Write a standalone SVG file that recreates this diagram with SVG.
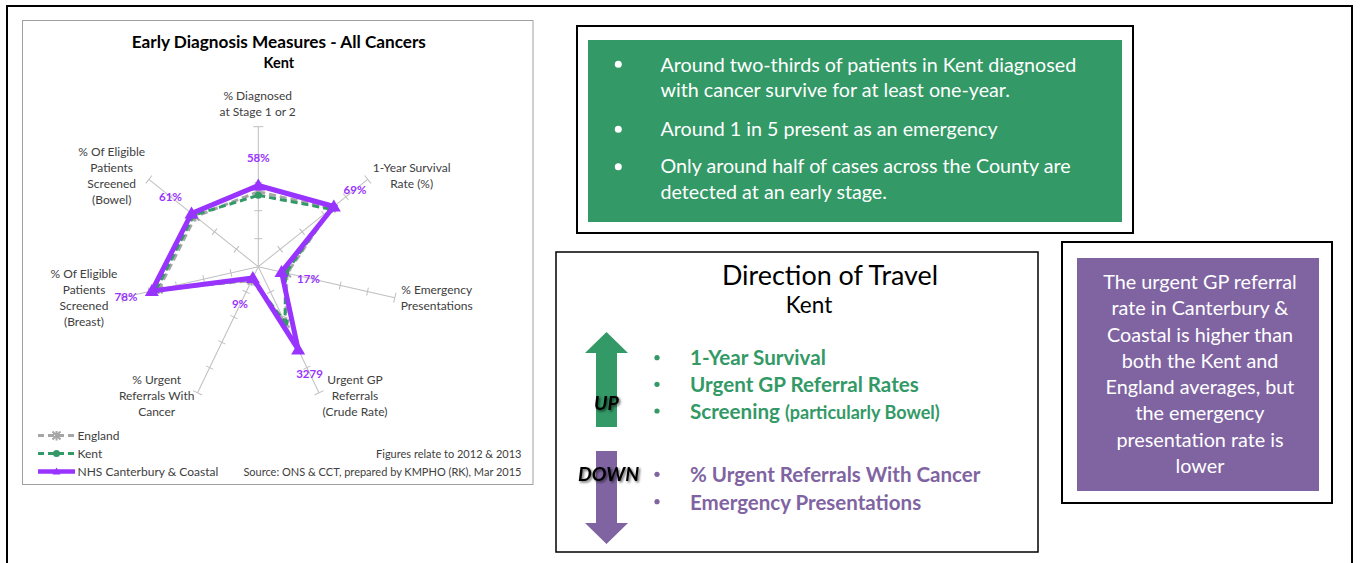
<svg xmlns="http://www.w3.org/2000/svg" xmlns:xlink="http://www.w3.org/1999/xlink" width="1360" height="563" viewBox="0 0 1360 563">
<style>
.frame{fill:none;stroke:#000;stroke-width:2}
.lbl{font-family:Lato,"Liberation Sans",sans-serif;font-size:12px;fill:#404040;text-anchor:middle}
.val{font-family:Lato,"Liberation Sans",sans-serif;font-size:11.5px;font-weight:bold;fill:#9933ff;text-anchor:middle}
.leg{font-family:Lato,"Liberation Sans",sans-serif;font-size:12px;fill:#404040}
.note{font-family:Lato,"Liberation Sans",sans-serif;font-size:11px;fill:#404040;text-anchor:end}
.wt{font-family:Lato,"Liberation Sans",sans-serif;font-size:19.7px;fill:#fff}
.pt{font-family:Lato,"Liberation Sans",sans-serif;font-size:19.8px;fill:#fff;text-anchor:middle}
.gb{font-family:Lato,"Liberation Sans",sans-serif;font-size:20.6px;font-weight:bold;fill:#339966}
.pb{font-family:Lato,"Liberation Sans",sans-serif;font-size:20.5px;font-weight:bold;fill:#8064a2}
.ud{font-family:Lato,"Liberation Sans",sans-serif;font-size:19.5px;font-weight:bold;font-style:italic;fill:#000}
.ax{stroke:#bfbfbf;stroke-width:1;fill:none}
</style>
<defs>
<g id="axis" class="ax"><line x1="0" y1="0" x2="0" y2="-140"/><path d="M-4,-28h8M-4,-56h8M-4,-84h8M-4,-112h8M-5,-140h10"/></g>
<marker id="tri" markerUnits="userSpaceOnUse" markerWidth="16" markerHeight="16" refX="8" refY="8" viewBox="0 0 16 16" overflow="visible"><path d="M8,1 L15,13 L1,13 Z" fill="#9933ff"/></marker>
<marker id="trism" markerUnits="userSpaceOnUse" markerWidth="10" markerHeight="10" refX="5" refY="5" viewBox="0 0 10 10" overflow="visible"><path d="M5,1 L9,8 L1,8 Z" fill="#9933ff"/></marker>
<marker id="dot" markerUnits="userSpaceOnUse" markerWidth="8" markerHeight="8" refX="4" refY="4" viewBox="0 0 8 8"><circle cx="4" cy="4" r="3.5" fill="#339966"/></marker>
<marker id="ex" markerUnits="userSpaceOnUse" markerWidth="10" markerHeight="10" refX="5" refY="5" viewBox="0 0 10 10"><path d="M1,1L9,9M9,1L1,9M5,0V10" stroke="#a6a6a6" stroke-width="2"/></marker>
<filter id="sh" x="-20%" y="-30%" width="150%" height="170%"><feDropShadow dx="1.5" dy="1.5" stdDeviation="1.2" flood-color="#000" flood-opacity="0.6"/></filter>
</defs>
<rect width="1360" height="563" fill="#fff"/>
<rect x="7" y="6" width="1345" height="600" class="frame"/>

<g id="chart">
<rect x="22.5" y="20.5" width="510.5" height="464" fill="#fff" stroke="#a0a0a0" stroke-width="1"/>
<text x="278.8" y="47.5" text-anchor="middle" font-family="Lato,'Liberation Sans',sans-serif" font-size="17.2" font-weight="bold" fill="#000">Early Diagnosis Measures - All Cancers</text>
<text x="278.8" y="67.5" text-anchor="middle" font-family="Lato,'Liberation Sans',sans-serif" font-size="14.5" font-weight="bold" fill="#000">Kent</text>
<g transform="translate(258.3,266.7)">
<use href="#axis"/>
<use href="#axis" transform="rotate(51.4286)"/>
<use href="#axis" transform="rotate(102.857)"/>
<use href="#axis" transform="rotate(154.286)"/>
<use href="#axis" transform="rotate(205.714)"/>
<use href="#axis" transform="rotate(257.143)"/>
<use href="#axis" transform="rotate(308.571)"/>
<path d="M0,-74.9 L73.33,-58.48 L28.66,6.54 L27.34,56.76 L-6.68,13.88 L-99.63,22.74 L-62.93,-50.19 Z" fill="none" stroke="#a6a6a6" stroke-width="3" stroke-dasharray="7 4" marker-start="url(#ex)" marker-mid="url(#ex)"/>
<path d="M0,-71.4 L72.24,-57.61 L27.3,6.23 L26.73,55.5 L-6.07,12.61 L-102.36,23.36 L-64.58,-51.5 Z" fill="none" stroke="#339966" stroke-width="3" stroke-dasharray="7 4" marker-start="url(#dot)" marker-mid="url(#dot)"/>
<path d="M0,-81.2 L75.52,-60.23 L23.2,5.3 L39.85,82.75 L-5.47,11.35 L-106.46,24.3 L-66.77,-53.25 Z" fill="none" stroke="#9933ff" stroke-width="5" stroke-linejoin="miter" marker-start="url(#tri)" marker-mid="url(#tri)"/>
</g>
<text class="val" x="258.3" y="162">58%</text>
<text class="val" x="355" y="194">69%</text>
<text class="val" x="308.5" y="283">17%</text>
<text class="val" x="309.5" y="378">3279</text>
<text class="val" x="240" y="308">9%</text>
<text class="val" x="126" y="301">78%</text>
<text class="val" x="170.5" y="201">61%</text>
<text class="lbl" x="257.7" y="100">% Diagnosed</text>
<text class="lbl" x="257.7" y="116">at Stage 1 or 2</text>
<text class="lbl" x="411.7" y="172">1-Year Survival</text>
<text class="lbl" x="411.7" y="188">Rate (%)</text>
<text class="lbl" x="436.7" y="294">% Emergency</text>
<text class="lbl" x="436.7" y="310">Presentations</text>
<text class="lbl" x="355" y="384">Urgent GP</text>
<text class="lbl" x="355" y="400">Referrals</text>
<text class="lbl" x="355" y="416">(Crude Rate)</text>
<text class="lbl" x="156.7" y="384">% Urgent</text>
<text class="lbl" x="156.7" y="400">Referrals With</text>
<text class="lbl" x="156.7" y="416">Cancer</text>
<text class="lbl" x="84" y="278">% Of Eligible</text>
<text class="lbl" x="84" y="294">Patients</text>
<text class="lbl" x="84" y="310">Screened</text>
<text class="lbl" x="84" y="326">(Breast)</text>
<text class="lbl" x="111.7" y="155.5">% Of Eligible</text>
<text class="lbl" x="111.7" y="171.5">Patients</text>
<text class="lbl" x="111.7" y="188">Screened</text>
<text class="lbl" x="111.7" y="204">(Bowel)</text>
<path d="M38,435.5H56.5H75" fill="none" stroke="#a6a6a6" stroke-width="3" stroke-dasharray="6 4" marker-mid="url(#ex)"/>
<path d="M38,453.5H56.5H75" fill="none" stroke="#339966" stroke-width="3" stroke-dasharray="6 4" marker-mid="url(#dot)"/>
<path d="M38,471.5H56.5H75" fill="none" stroke="#9933ff" stroke-width="4.5" marker-mid="url(#trism)"/>
<text class="leg" x="77.5" y="440">England</text>
<text class="leg" x="77.5" y="458">Kent</text>
<text class="leg" x="77.5" y="476">NHS Canterbury &amp; Coastal</text>
<text class="note" x="521.5" y="458">Figures relate to 2012 &amp; 2013</text>
<text class="note" x="521.5" y="476">Source:  ONS &amp; CCT, prepared by KMPHO (RK), Mar 2015</text>
</g>

<g id="summary">
<rect x="577" y="26" width="556" height="207" class="frame"/>
<rect x="588" y="40" width="534" height="182" fill="#339966"/>
<circle cx="618.3" cy="64.3" r="3.5" fill="#fff"/>
<circle cx="618.3" cy="129.3" r="3.5" fill="#fff"/>
<circle cx="618.3" cy="166.7" r="3.5" fill="#fff"/>
<text class="wt" x="660.5" y="71.5">Around two-thirds of patients in Kent diagnosed</text>
<text class="wt" x="660.5" y="97">with cancer survive for at least one-year.</text>
<text class="wt" x="660.5" y="136">Around 1 in 5 present as an emergency</text>
<text class="wt" x="660.5" y="173">Only around half of cases across the County are</text>
<text class="wt" x="660.5" y="199">detected at an early stage.</text>
</g>

<g id="direction">
<rect x="556" y="252" width="482" height="300" fill="#fff" stroke="#000" stroke-width="1.5"/>
<text x="830" y="284.5" text-anchor="middle" font-family="Lato,'Liberation Sans',sans-serif" font-size="26.9" fill="#000">Direction of Travel</text>
<text x="809" y="313" text-anchor="middle" font-family="Lato,'Liberation Sans',sans-serif" font-size="22.5" fill="#000">Kent</text>
<path d="M606.5,332 L628,353 L617,353 L617,427 L596,427 L596,353 L585,353 Z" fill="#339966"/>
<path d="M596,451 L617,451 L617,523 L628,523 L606.5,544 L585,523 L596,523 Z" fill="#8064a2"/>
<text class="ud" x="594" y="410" filter="url(#sh)">UP</text>
<text class="ud" x="578" y="481" filter="url(#sh)">DOWN</text>
<circle cx="657" cy="357.7" r="2.6" fill="#339966"/>
<circle cx="657" cy="384.3" r="2.6" fill="#339966"/>
<circle cx="657" cy="411" r="2.6" fill="#339966"/>
<circle cx="657" cy="474.3" r="2.6" fill="#8064a2"/>
<circle cx="657" cy="501.7" r="2.6" fill="#8064a2"/>
<text class="gb" x="690" y="365">1-Year Survival</text>
<text class="gb" x="690" y="392">Urgent GP Referral Rates</text>
<text class="gb" x="690" y="419">Screening <tspan font-size="18">(particularly Bowel)</tspan></text>
<text class="pb" x="690" y="482">% Urgent Referrals With Cancer</text>
<text class="pb" x="690" y="510">Emergency Presentations</text>
</g>

<g id="canterbury-note">
<rect x="1062" y="242" width="270" height="261" class="frame"/>
<rect x="1077" y="258" width="242" height="233" fill="#8064a2"/>
<text class="pt" x="1200" y="289">The urgent GP referral</text>
<text class="pt" x="1200" y="315">rate in Canterbury &amp;</text>
<text class="pt" x="1200" y="341.5">Coastal is higher than</text>
<text class="pt" x="1200" y="367.5">both the Kent and</text>
<text class="pt" x="1200" y="394">England averages, but</text>
<text class="pt" x="1200" y="420">the emergency</text>
<text class="pt" x="1200" y="446.5">presentation rate is</text>
<text class="pt" x="1200" y="472.5">lower</text>
</g>
<g id="connectors"/>
</svg>
